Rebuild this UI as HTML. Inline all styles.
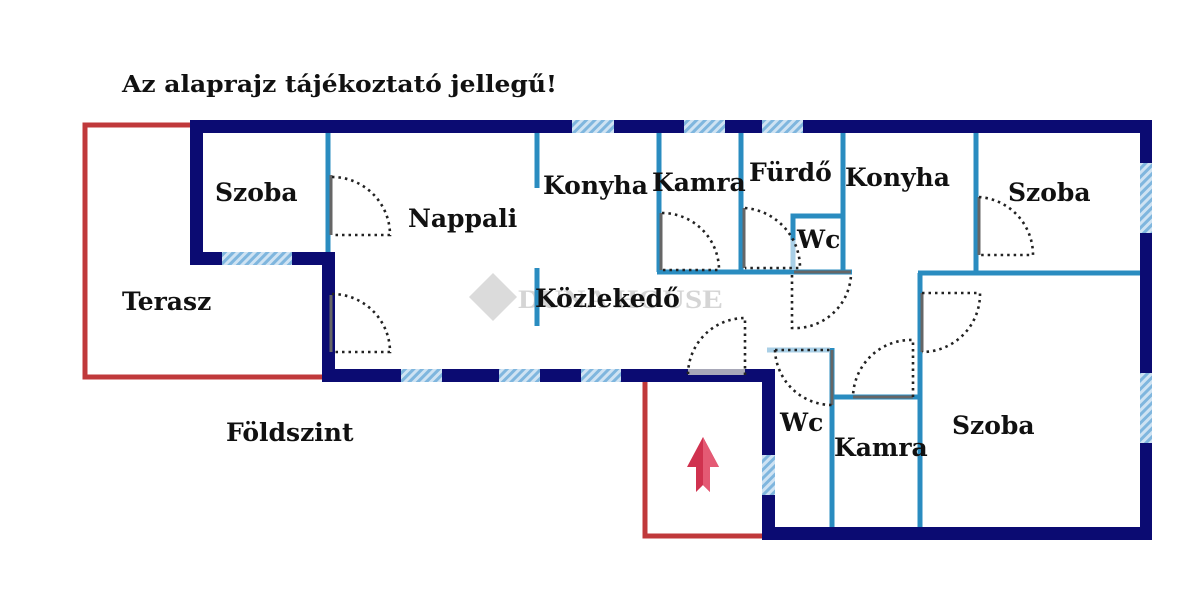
<!DOCTYPE html>
<html><head><meta charset="utf-8"><style>
html,body{margin:0;padding:0;background:#fff;}
svg{display:block;}
text{font-family:"DejaVu Serif","Liberation Serif",serif;font-weight:bold;fill:#111;}
</style></head><body>
<svg width="1200" height="600" viewBox="0 0 1200 600" xmlns="http://www.w3.org/2000/svg">
<defs>
<pattern id="h" width="6" height="6" patternUnits="userSpaceOnUse" patternTransform="rotate(45)">
<rect width="6" height="6" fill="#cfe3f3"/><rect width="3" height="6" fill="#7fb6de"/>
</pattern>
</defs>
<rect width="1200" height="600" fill="#fff"/>
<text x="122" y="92" font-size="23" textLength="435" lengthAdjust="spacingAndGlyphs">Az alaprajz tájékoztató jellegű!</text>

<g fill="none" stroke="#c0393b" stroke-width="5">
<polyline points="192,125 85,125 85,377 324,377"/>
<polyline points="645,382 645,536 764,536"/>
</g>

<g opacity="0.35">
<rect x="476" y="280" width="34" height="34" fill="#999" transform="rotate(45 493 297)"/>
<text x="518" y="308" font-size="26" font-weight="normal" style="font-family:'Liberation Serif',serif;fill:#888" textLength="205" lengthAdjust="spacingAndGlyphs">DUNA HOUSE</text>
</g>

<g stroke="#2a8cc0" stroke-width="5" fill="none" stroke-linecap="butt">
<line x1="328" y1="130" x2="328" y2="252"/>
<line x1="537" y1="130" x2="537" y2="188"/>
<line x1="537" y1="268" x2="537" y2="326"/>
<line x1="659" y1="130" x2="659" y2="272"/>
<line x1="741" y1="130" x2="741" y2="272"/>
<line x1="843" y1="130" x2="843" y2="272"/>
<polyline points="793,272 793,216 843,216"/>
<line x1="657" y1="272" x2="852" y2="272"/>
<line x1="976" y1="130" x2="976" y2="273"/>
<line x1="918" y1="273" x2="1142" y2="273"/>
<line x1="920" y1="273" x2="920" y2="530"/>
<line x1="832" y1="348" x2="832" y2="530"/>
<line x1="832" y1="397" x2="920" y2="397"/>
</g>
<line x1="767" y1="350" x2="830" y2="350" stroke="#a9cfe6" stroke-width="5"/>
<line x1="793" y1="240" x2="793" y2="270" stroke="#a9cfe6" stroke-width="5"/>

<g fill="#0b0b72">
<rect x="190" y="120" width="962" height="13"/>
<rect x="190" y="120" width="13" height="145"/>
<rect x="190" y="252" width="145" height="13"/>
<rect x="322" y="252" width="13" height="130"/>
<rect x="322" y="369" width="453" height="13"/>
<rect x="762" y="369" width="13" height="171"/>
<rect x="762" y="527" width="390" height="13"/>
<rect x="1140" y="120" width="12" height="420"/>
</g>
<g fill="url(#h)">
<rect x="572" y="120" width="42" height="13"/>
<rect x="684" y="120" width="41" height="13"/>
<rect x="762" y="120" width="41" height="13"/>
<rect x="222" y="252" width="70" height="13"/>
<rect x="401" y="369" width="41" height="13"/>
<rect x="499" y="369" width="41" height="13"/>
<rect x="581" y="369" width="40" height="13"/>
<rect x="762" y="455" width="13" height="40"/>
<rect x="1140" y="163" width="12" height="70"/>
<rect x="1140" y="373" width="12" height="70"/>
</g>
<rect x="688" y="369" width="57" height="6" fill="#a8a8b8"/>

<g stroke="#666" stroke-width="3">
<line x1="331" y1="175" x2="331" y2="235"/>
<line x1="331" y1="295" x2="331" y2="352"/>
<line x1="661" y1="213" x2="661" y2="270"/>
<line x1="744" y1="208" x2="744" y2="268"/>
<line x1="979" y1="197" x2="979" y2="255"/>
<line x1="794" y1="272" x2="851" y2="272"/>
<line x1="922" y1="293" x2="922" y2="352"/>
<line x1="853" y1="397" x2="913" y2="397"/>
<line x1="832" y1="350" x2="832" y2="405"/>
</g>
<g fill="none" stroke="#222" stroke-width="2.6" stroke-dasharray="2.5,4">
<path d="M332,177 A58,58 0 0 1 390,235 L332,235"/>
<path d="M332,294 A58,58 0 0 1 390,352 L332,352"/>
<path d="M662,213 A57,57 0 0 1 719,270 L662,270"/>
<path d="M745,208 A60,60 0 0 1 800,268 L745,268"/>
<path d="M979,197 A58,58 0 0 1 1033,255 L979,255"/>
<path d="M792,275 L792,328 A56,56 0 0 0 851,275"/>
<path d="M745,375 L745,318 A57,57 0 0 0 688,375"/>
<path d="M922,293 L980,293 A58,58 0 0 1 922,352"/>
<path d="M913,397 L913,340 A58,58 0 0 0 853,397"/>
<path d="M775,350 L832,350 M775,350 A57,57 0 0 0 832,405"/>
</g>

<polygon points="703,437 719,467 710,467 710,492 703,485 696,492 696,467 687,467" fill="#d0324f"/>
<polygon points="703,437 719,467 710,467 710,492 703,485" fill="#e45a74"/>

<g font-size="25">
<text x="215" y="201">Szoba</text>
<text x="408" y="227">Nappali</text>
<text x="543" y="194">Konyha</text>
<text x="652" y="191">Kamra</text>
<text x="749" y="181">Fürdő</text>
<text x="797" y="248">Wc</text>
<text x="845" y="186">Konyha</text>
<text x="1008" y="201">Szoba</text>
<text x="122" y="310">Terasz</text>
<text x="535" y="307">Közlekedő</text>
<text x="780" y="431">Wc</text>
<text x="834" y="456">Kamra</text>
<text x="952" y="434">Szoba</text>
<text x="226" y="441">Földszint</text>
</g>
</svg>
</body></html>
